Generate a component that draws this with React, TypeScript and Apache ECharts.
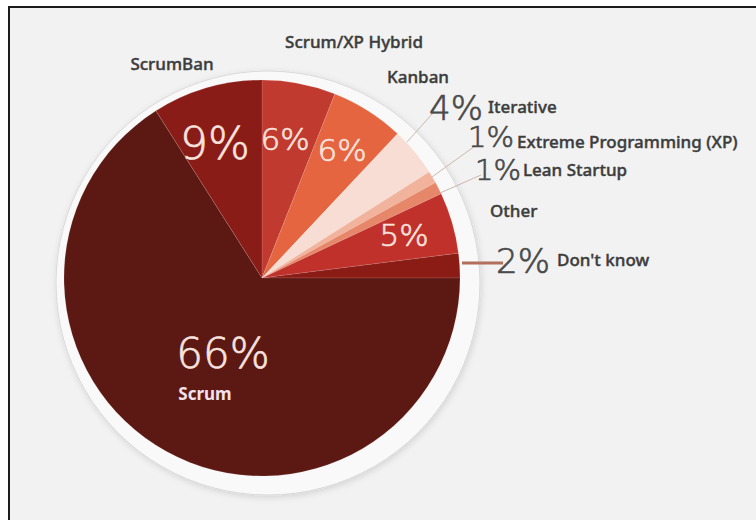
import React, { useEffect, useRef } from 'react';
import * as echarts from 'echarts';

// ---- data ----
const categories = ['Scrum/XP Hybrid', 'Kanban', 'Iterative', 'Extreme Programming (XP)', 'Lean Startup', 'Other', "Don't know", 'Scrum', 'ScrumBan'];
const shares = [6, 6, 4, 1, 1, 5, 2, 66, 9];

// ---- styles / placement ----
const sliceColors = ['#c03a2f', '#e4653f', '#f7ddd4', '#f2b39c', '#e6876a', '#c1312b', '#8b1b15', '#5c1813', '#8a1c17'];
const pctPos = [[285, 139], [342, 150], [456, 108], [491, 137], [498, 170], [404, 235], [523, 261], [223, 353], [215, 143]];
const pctSize = [31, 31, 34, 29, 29, 31, 34, 42, 44];
const pctInside = [true, true, false, false, false, true, false, true, true];
const namePos = [[354, 41], [418, 76], [488, 106], [517, 141], [523, 169], [490, 210], [557, 259], [205, 393], [172, 63]];
const nameAlign = ['center', 'center', 'left', 'left', 'left', 'left', 'left', 'center', 'center'];
const leaderLines: (number[][] | null)[] = [null, null, [[407, 142], [433, 113]], [[425, 182], [475, 146]], [[440, 193], [481, 175]], null, [[462, 263], [503, 263]], null, null];
const leaderColors = ['', '', '#cdb6ae', '#cdb6ae', '#cdb6ae', '', '#b36f5d', '', ''];
const leaderWidths = [0, 0, 1, 1, 1, 0, 3, 0, 0];

const CENTER = [262, 278];
const RADIUS = 198;

export default function App() {
  const ref = useRef<HTMLDivElement>(null);
  useEffect(() => {
    if (!ref.current) return;
    const chart = echarts.init(ref.current, null, { renderer: 'svg' });
    const pctData = categories.map((name, i) => {
      const c = pctInside[i] ? '#f7e2de' : '#4a4a4a';
      return {
        name,
        value: shares[i],
        itemStyle: { color: sliceColors[i] },
        label: {
          fontSize: pctSize[i],
          lineHeight: Math.round(pctSize[i] * 0.8),
          color: c,
          textBorderColor: c,
          textBorderWidth: 0.7,
        },
        labelLine: {
          show: leaderLines[i] != null,
          lineStyle: { color: leaderColors[i] || '#ccc', width: leaderWidths[i] || 1 },
        },
      };
    });
    const nameData = categories.map((name, i) => {
      const c = name === 'Scrum' ? '#f1e2ea' : '#3d3d3d';
      return {
        name,
        value: shares[i],
        label: {
          color: c,
          fontWeight: name === 'Scrum' ? 700 : 500,
          textBorderColor: c,
          textBorderWidth: name === 'Scrum' ? 0 : 0.4,
        },
      };
    });
    chart.setOption({
      animation: false,
      backgroundColor: '#ffffff',
      graphic: [
        {
          type: 'rect',
          z: -10,
          silent: true,
          shape: { x: 9, y: 7, width: 800, height: 600 },
          style: { fill: '#f2f2f2', stroke: '#1c1c1c', lineWidth: 2 },
        },
      ],
      series: [
        {
          type: 'pie',
          silent: true,
          z: 1,
          center: [268, 283],
          radius: 212,
          label: { show: false },
          labelLine: { show: false },
          data: [{ name: 'ring', value: 1 }],
          itemStyle: {
            color: '#f9f9f9',
            borderColor: '#d9d9d9',
            borderWidth: 1,
            shadowBlur: 6,
            shadowColor: 'rgba(0,0,0,0.13)',
            shadowOffsetX: 1,
            shadowOffsetY: 2,
          },
        },
        {
          type: 'pie',
          z: 2,
          center: CENTER,
          radius: RADIUS,
          startAngle: 90,
          clockwise: true,
          avoidLabelOverlap: false,
          itemStyle: { borderWidth: 0.5, borderColor: 'rgba(255,230,220,0.25)' },
          label: {
            show: true,
            position: 'outside',
            formatter: '{c}%',
            fontFamily: 'DejaVu Sans',
            fontWeight: 200,
          },
          labelLine: { show: false },
          labelLayout: (p: any) => {
            const i = p.dataIndex;
            const o: any = { x: pctPos[i][0], y: pctPos[i][1], align: 'center', verticalAlign: 'middle' };
            if (leaderLines[i]) o.labelLinePoints = leaderLines[i];
            return o;
          },
          data: pctData,
        },
        {
          type: 'pie',
          z: 3,
          silent: true,
          center: CENTER,
          radius: RADIUS,
          startAngle: 90,
          clockwise: true,
          avoidLabelOverlap: false,
          itemStyle: { color: 'rgba(0,0,0,0)' },
          label: {
            show: true,
            position: 'outside',
            formatter: '{b}',
            fontFamily: 'Noto Sans',
            fontSize: 17,
            lineHeight: 18,
          },
          labelLine: { show: false },
          labelLayout: (p: any) => {
            const i = p.dataIndex;
            return { x: namePos[i][0], y: namePos[i][1], align: nameAlign[i], verticalAlign: 'middle' };
          },
          data: nameData,
        },
      ],
    });
    return () => chart.dispose();
  }, []);
  return (
    <div
      ref={ref}
      style={{ position: 'fixed', left: 0, top: 0, width: 756, height: 520 }}
    />
  );
}
